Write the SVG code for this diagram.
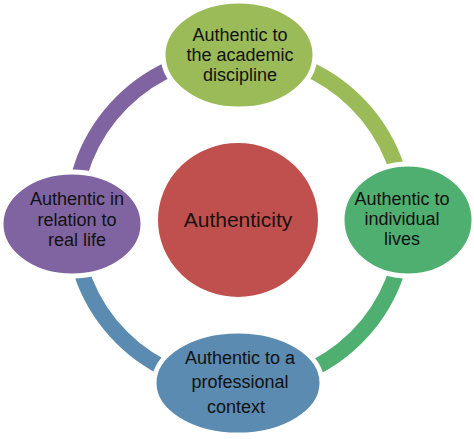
<svg xmlns="http://www.w3.org/2000/svg" width="474" height="439" viewBox="0 0 474 439">
<style>
.ring{fill:none;stroke-width:16}
.node{stroke:#ffffff;stroke-width:5}
.t{font-family:"Liberation Sans",Arial,sans-serif;font-size:18px;fill:#111;text-anchor:middle}
.c{font-family:"Liberation Sans",Arial,sans-serif;font-size:21px;fill:#1a1010;text-anchor:middle}
</style>
<rect width="474" height="439" fill="#ffffff"/>
<g id="connectors">
<path class="ring" stroke="#9BBB59" d="M239 54 A166 166 0 0 1 405 220"/>
<path class="ring" stroke="#4FAF70" d="M405 220 A166 166 0 0 1 239 386"/>
<path class="ring" stroke="#5B8BB0" d="M239 386 A166 166 0 0 1 73 220"/>
<path class="ring" stroke="#8064A2" d="M73 220 A166 166 0 0 1 239 54"/>
</g>
<g id="center">
<ellipse cx="238" cy="220" rx="81" ry="78" fill="#C0504D" stroke="#ffffff" stroke-width="2"/>
<text class="c" x="238" y="227">Authenticity</text>
</g>
<g id="top">
<ellipse class="node" cx="239" cy="55" rx="76" ry="54" fill="#9BBB59"/>
<text class="t" x="240" y="41">Authentic to</text>
<text class="t" x="240" y="61">the academic</text>
<text class="t" x="240" y="81">discipline</text>
</g>
<g id="right">
<ellipse class="node" cx="408" cy="220" rx="66" ry="56" fill="#4FAF70"/>
<text class="t" x="402" y="205">Authentic to</text>
<text class="t" x="402" y="225">individual</text>
<text class="t" x="402" y="245">lives</text>
</g>
<g id="left">
<ellipse class="node" cx="72" cy="224" rx="71" ry="52" fill="#8064A2"/>
<text class="t" x="77" y="205">Authentic in</text>
<text class="t" x="77" y="226">relation to</text>
<text class="t" x="77" y="246">real life</text>
</g>
<g id="bottom">
<ellipse class="node" cx="238" cy="383" rx="84" ry="52" fill="#5B8BB0"/>
<text class="t" x="240" y="364">Authentic to a</text>
<text class="t" x="240" y="388">professional</text>
<text class="t" x="236" y="413">context</text>
</g>
</svg>
